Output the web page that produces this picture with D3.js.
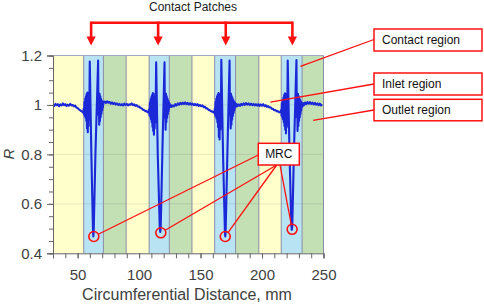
<!DOCTYPE html>
<html>
<head>
<meta charset="utf-8">
<script src="https://cdn.jsdelivr.net/npm/d3@7"></script>
<style>
  body { margin: 0; background: #fff; }
  svg { display: block; font-family: "Liberation Sans", Arial, sans-serif; }
</style>
</head>
<body>
<svg id="chart" width="484" height="306"></svg>
<script>
// regions along the circumference (mm): yellow = inlet, blue = contact, green = outlet
var regions = [
  {from: 30,    to: 55,    kind: "inlet"},
  {from: 55,    to: 71,    kind: "contact"},
  {from: 71,    to: 89.5,  kind: "outlet"},
  {from: 89.5,  to: 108.2, kind: "inlet"},
  {from: 108.2, to: 124.6, kind: "contact"},
  {from: 124.6, to: 143,   kind: "outlet"},
  {from: 143,   to: 161.5, kind: "inlet"},
  {from: 161.5, to: 178.5, kind: "contact"},
  {from: 178.5, to: 197.4, kind: "outlet"},
  {from: 197.4, to: 215.6, kind: "inlet"},
  {from: 215.6, to: 232.6, kind: "contact"},
  {from: 232.6, to: 250,   kind: "outlet"}
];

// measured trace, [distance mm, R]
var lead = [[30,1.001],[31,0.996],[32,1.004],[33,0.999],[34,1.003],[35,0.995],[36,1.002],[37,0.998],[38,1.006],[39,0.999],[40,1.003],[41,0.996],[42,1.001],[43,0.997],[44,1.004],[45,0.998],[46,1.0],[47,0.994],[48,0.997],[49,0.990],[50,0.988],[51,0.982],[52,0.979],[53,0.975],[54,0.972],[54.6,0.968]];
var patch1 = [[55.0,0.985],[55.3,0.962],[55.6,1.012],[55.9,0.955],[56.2,1.025],[56.5,0.948],[56.8,1.035],[57.1,0.935],[57.4,1.045],[57.7,0.905],[58.0,1.05],[58.3,0.89],[58.6,1.04],[58.9,0.915],[59.2,1.03],[59.5,0.95],[59.9,1.176],[61.2,0.80],[62.5,0.50],[62.8,0.468],[63.1,0.49],[64.5,0.80],[66.7,1.18],[67.0,0.96],[67.3,1.04],[67.6,0.92],[67.9,1.045],[68.2,0.935],[68.5,1.035],[68.8,0.95],[69.1,1.025],[69.4,0.965],[69.7,1.018],[70.0,0.978],[70.3,1.012],[70.6,0.99],[71.0,1.012]];
var gap1 = [[72,1.014],[73,1.008],[74,1.015],[75,1.009],[76,1.012],[77,1.005],[78,1.01],[79,1.004],[80,1.008],[81,1.002],[82,1.006],[83,1.0],[84,1.004],[85,0.999],[86,1.003],[87,0.998],[88,1.005],[89,1.0],[90,1.004],[91,0.998],[92,1.003],[93,1.001],[94,1.006],[95,0.999],[96,1.002],[97,0.996],[98,0.999],[99,0.993],[100,0.994],[101,0.988],[102,0.987],[103,0.981],[104,0.98],[105,0.975],[106,0.976],[107,0.97],[107.8,0.972]];
var patch2 = [[108.2,0.982],[108.5,0.958],[108.8,1.01],[109.1,0.952],[109.4,1.022],[109.7,0.942],[110.0,1.032],[110.3,0.93],[110.6,1.04],[110.9,0.912],[111.2,1.048],[111.5,0.895],[111.8,1.045],[112.1,0.88],[112.4,1.035],[112.7,0.905],[113.0,1.03],[113.4,0.93],[113.9,1.172],[115.2,0.80],[116.8,0.51],[117.2,0.486],[117.6,0.50],[119.0,0.82],[120.7,1.172],[121.0,0.95],[121.3,1.042],[121.6,0.90],[121.9,1.045],[122.2,0.93],[122.5,1.035],[122.8,0.948],[123.1,1.025],[123.4,0.962],[123.7,1.018],[124.0,0.975],[124.4,1.01],[124.8,0.99]];
var gap2 = [[125.5,1.002],[126.5,0.992],[127.5,0.998],[128.5,0.994],[129.5,1.003],[130.5,0.998],[131.5,1.006],[132.5,1.001],[133.5,1.008],[134.5,1.003],[135.5,1.009],[136.5,1.004],[137.5,1.01],[138.5,1.003],[139.5,1.008],[140.5,1.002],[141.5,1.007],[142.5,1.001],[143.5,1.005],[144.5,0.999],[145.5,1.004],[146.5,0.998],[147.5,1.003],[148.5,0.996],[149.5,1.0],[150.5,0.995],[151.5,0.998],[152.5,0.991],[153.5,0.993],[154.5,0.986],[155.5,0.986],[156.5,0.98],[157.5,0.979],[158.5,0.974],[159.5,0.974],[160.5,0.969],[161.3,0.971]];
var patch3 = [[161.6,0.985],[161.9,0.96],[162.2,1.012],[162.5,0.952],[162.8,1.025],[163.1,0.944],[163.4,1.035],[163.7,0.93],[164.0,1.042],[164.3,0.91],[164.6,1.048],[164.9,0.87],[165.2,1.045],[165.5,0.86],[165.8,1.035],[166.1,0.9],[166.5,0.95],[166.9,1.183],[168.3,0.80],[169.8,0.49],[170.1,0.468],[170.4,0.485],[171.8,0.80],[173.6,1.18],[173.9,0.96],[174.2,1.042],[174.5,0.905],[174.8,1.045],[175.1,0.92],[175.4,1.035],[175.7,0.94],[176.0,1.028],[176.3,0.955],[176.6,1.02],[176.9,0.968],[177.2,1.015],[177.5,0.978],[177.9,1.01],[178.3,0.99]];
var gap3 = [[179,1.005],[180,0.995],[181,1.002],[182,0.996],[183,1.004],[184,0.999],[185,1.006],[186,1.0],[187,1.007],[188,1.001],[189,1.006],[190,1.0],[191,1.005],[192,0.999],[193,1.004],[194,0.998],[195,1.003],[196,0.997],[197,1.003],[198,0.996],[199,1.002],[200,0.997],[201,1.003],[202,0.995],[203,0.999],[204,0.992],[205,0.995],[206,0.99],[207,0.99],[208,0.984],[209,0.984],[210,0.979],[211,0.979],[212,0.974],[213,0.975],[214,0.97],[215,0.972]];
var patch4 = [[215.6,0.98],[215.9,0.958],[216.2,1.008],[216.5,0.95],[216.8,1.02],[217.1,0.942],[217.4,1.03],[217.7,0.93],[218.0,1.04],[218.3,0.915],[218.6,1.047],[218.9,0.9],[219.2,1.045],[219.5,0.885],[219.8,1.035],[220.1,0.91],[220.5,0.945],[220.9,1.18],[222.3,0.82],[223.8,0.52],[224.2,0.495],[224.6,0.51],[226.0,0.82],[228.0,1.182],[228.3,0.95],[228.6,1.04],[228.9,0.895],[229.2,1.045],[229.5,0.915],[229.8,1.036],[230.1,0.935],[230.4,1.028],[230.7,0.95],[231.0,1.02],[231.3,0.965],[231.6,1.015],[231.9,0.978],[232.3,1.01],[232.7,0.992]];
var tail = [[233.2,1.008],[234,0.998],[235,1.01],[236,1.003],[237,1.012],[238,1.005],[239,1.011],[240,1.004],[241,1.009],[242,1.002],[243,1.008],[244,1.001],[245,1.006],[246,0.999],[247,1.005],[248,0.998],[249,1.002]];

var yMajor = [0.4, 0.6, 0.8, 1.0, 1.2];
var xMajor = [50, 100, 150, 200, 250];
var patchCenters = [61, 115.5, 170.5, 224.7];
var mrcPoints = [[63.2, 0.468], [117.7, 0.483], [170.1, 0.468], [224.5, 0.497]];

var regionFill = {inlet: "#ffffcc", contact: "#b8e3f3", outlet: "#c3e0b5"};

var svg = d3.select("#chart");
var x = d3.scaleLinear().domain([30, 250]).range([53, 323.5]);
var y = d3.scaleLinear().domain([0.4, 1.2]).range([253.3, 55.5]);

// background bands
svg.append("g").selectAll("rect")
  .data(regions).enter().append("rect")
  .attr("x", function(d){ return x(d.from); })
  .attr("y", y(1.2))
  .attr("width", function(d){ return x(d.to) - x(d.from); })
  .attr("height", y(0.4) - y(1.2))
  .attr("fill", function(d){ return regionFill[d.kind]; });

// grid
svg.append("g").selectAll("line")
  .data([0.6, 0.8, 1.0]).enter().append("line")
  .attr("x1", x(30)).attr("x2", x(250))
  .attr("y1", function(d){ return y(d); }).attr("y2", function(d){ return y(d); })
  .attr("stroke", "#000").attr("stroke-opacity", 0.09);

// band separators + frame
svg.append("g").selectAll("line")
  .data(regions.slice(1).map(function(d){ return d.from; }).concat([250])).enter().append("line")
  .attr("x1", function(d){ return x(d); }).attr("x2", function(d){ return x(d); })
  .attr("y1", y(1.2)).attr("y2", y(0.4))
  .attr("stroke", "#8c8ca6").attr("stroke-width", 1);
svg.append("line")
  .attr("x1", x(30)).attr("x2", x(250)).attr("y1", y(1.2)).attr("y2", y(1.2))
  .attr("stroke", "#a4a4c4");

// trace
var trace = lead.concat(patch1, gap1, patch2, gap2, patch3, gap3, patch4, tail);
var line = d3.line().x(function(d){ return x(d[0]); }).y(function(d){ return y(d[1]); });
svg.append("path")
  .datum(trace)
  .attr("d", line)
  .attr("fill", "none")
  .attr("stroke", "#1a28d8")
  .attr("stroke-width", 2.1)
  .attr("stroke-linejoin", "round");

// axes
svg.append("g").attr("transform", "translate(" + x(30) + ",0)")
  .call(d3.axisLeft(y).tickValues(yMajor).tickSize(6).tickPadding(5)
    .tickFormat(function(d){ return d === 1 ? "1" : d3.format(".1f")(d); }));
svg.append("g").attr("transform", "translate(" + x(30) + ",0)")
  .call(d3.axisLeft(y).tickValues(d3.range(0, 17).map(function(i){ return 0.4 + i * 0.05; }))
    .tickSize(4).tickFormat(""))
  .select(".domain").remove();
svg.append("g").attr("transform", "translate(0," + y(0.4) + ")")
  .call(d3.axisBottom(x).tickValues(xMajor).tickSize(5).tickPadding(11));
svg.append("g").attr("transform", "translate(0," + y(0.4) + ")")
  .call(d3.axisBottom(x).tickValues(d3.range(30, 251, 10)).tickSize(5).tickFormat(""))
  .select(".domain").remove();

svg.selectAll(".domain").attr("stroke", "#666");
svg.selectAll(".tick line").attr("stroke", "#666");
svg.selectAll(".tick text").attr("fill", "#404040").style("font-size", "15px")
  .style("font-family", "'Liberation Sans', Arial, sans-serif");

svg.append("text")
  .attr("x", 187).attr("y", 300)
  .attr("text-anchor", "middle")
  .attr("fill", "#404040")
  .style("font-size", "16px")
  .text("Circumferential Distance, mm");

svg.append("text")
  .attr("transform", "translate(14,154) rotate(-90)")
  .attr("text-anchor", "middle")
  .attr("fill", "#404040")
  .style("font-size", "15px")
  .style("font-style", "italic")
  .text("R");

// contact patches bracket
var red = "#ff1010";
svg.append("text")
  .attr("x", 193).attr("y", 10.5)
  .attr("text-anchor", "middle").attr("fill", "#222")
  .style("font-size", "12px")
  .text("Contact Patches");
svg.append("line")
  .attr("x1", x(patchCenters[0])).attr("x2", x(patchCenters[3]))
  .attr("y1", 22.7).attr("y2", 22.7)
  .attr("stroke", red).attr("stroke-width", 2.6);
var arrows = svg.append("g").selectAll("g").data(patchCenters).enter().append("g");
arrows.append("line")
  .attr("x1", function(d){ return x(d); }).attr("x2", function(d){ return x(d); })
  .attr("y1", 21.5).attr("y2", 38)
  .attr("stroke", red).attr("stroke-width", 2.6);
arrows.append("path")
  .attr("d", function(d){
    var cx = x(d);
    return "M" + (cx - 4.6) + ",36.5L" + (cx + 4.6) + ",36.5L" + cx + ",45.5Z";
  })
  .attr("fill", red);

// leader lines
var leaders = [
  [[374, 39.5], [x(231.2), y(1.156)]],
  [[374, 84], [x(206.8), y(1.011)]],
  [[374, 110], [x(241.6), y(0.938)]]
];
var mrcSources = [[258.3, 155], [276.7, 165], [276.7, 165], [280, 165]];
var circleR = 5;
mrcPoints.forEach(function(p, i){
  var cx = x(p[0]), cy = y(p[1]);
  var s = mrcSources[i];
  var dx = s[0] - cx, dy = s[1] - cy, len = Math.sqrt(dx * dx + dy * dy);
  leaders.push([s, [cx + circleR * dx / len, cy + circleR * dy / len]]);
});
svg.append("g").selectAll("line")
  .data(leaders).enter().append("line")
  .attr("x1", function(d){ return d[0][0]; }).attr("y1", function(d){ return d[0][1]; })
  .attr("x2", function(d){ return d[1][0]; }).attr("y2", function(d){ return d[1][1]; })
  .attr("stroke", red).attr("stroke-width", 1.3);

svg.append("g").selectAll("circle")
  .data(mrcPoints).enter().append("circle")
  .attr("cx", function(d){ return x(d[0]); })
  .attr("cy", function(d){ return y(d[1]); })
  .attr("r", circleR)
  .attr("fill", "none").attr("stroke", red).attr("stroke-width", 1.6);

// callout boxes
var boxes = [
  {label: "Contact region", x: 374, y: 29, w: 108, h: 22, anchor: "start"},
  {label: "Inlet region",   x: 374, y: 73, w: 108, h: 22, anchor: "start"},
  {label: "Outlet region",  x: 374, y: 99.3, w: 108, h: 21.5, anchor: "start"},
  {label: "MRC",            x: 258.3, y: 143.3, w: 41, h: 21.7, anchor: "middle"}
];
var bx = svg.append("g").selectAll("g").data(boxes).enter().append("g");
bx.append("rect")
  .attr("x", function(d){ return d.x; }).attr("y", function(d){ return d.y; })
  .attr("width", function(d){ return d.w; }).attr("height", function(d){ return d.h; })
  .attr("fill", "#fff").attr("stroke", red).attr("stroke-width", 1.5);
bx.append("text")
  .attr("x", function(d){ return d.anchor === "middle" ? d.x + d.w / 2 : d.x + 8; })
  .attr("y", function(d){ return d.y + d.h / 2 + 4.3; })
  .attr("text-anchor", function(d){ return d.anchor; })
  .attr("fill", "#111")
  .style("font-size", "12px")
  .text(function(d){ return d.label; });
</script>
</body>
</html>
